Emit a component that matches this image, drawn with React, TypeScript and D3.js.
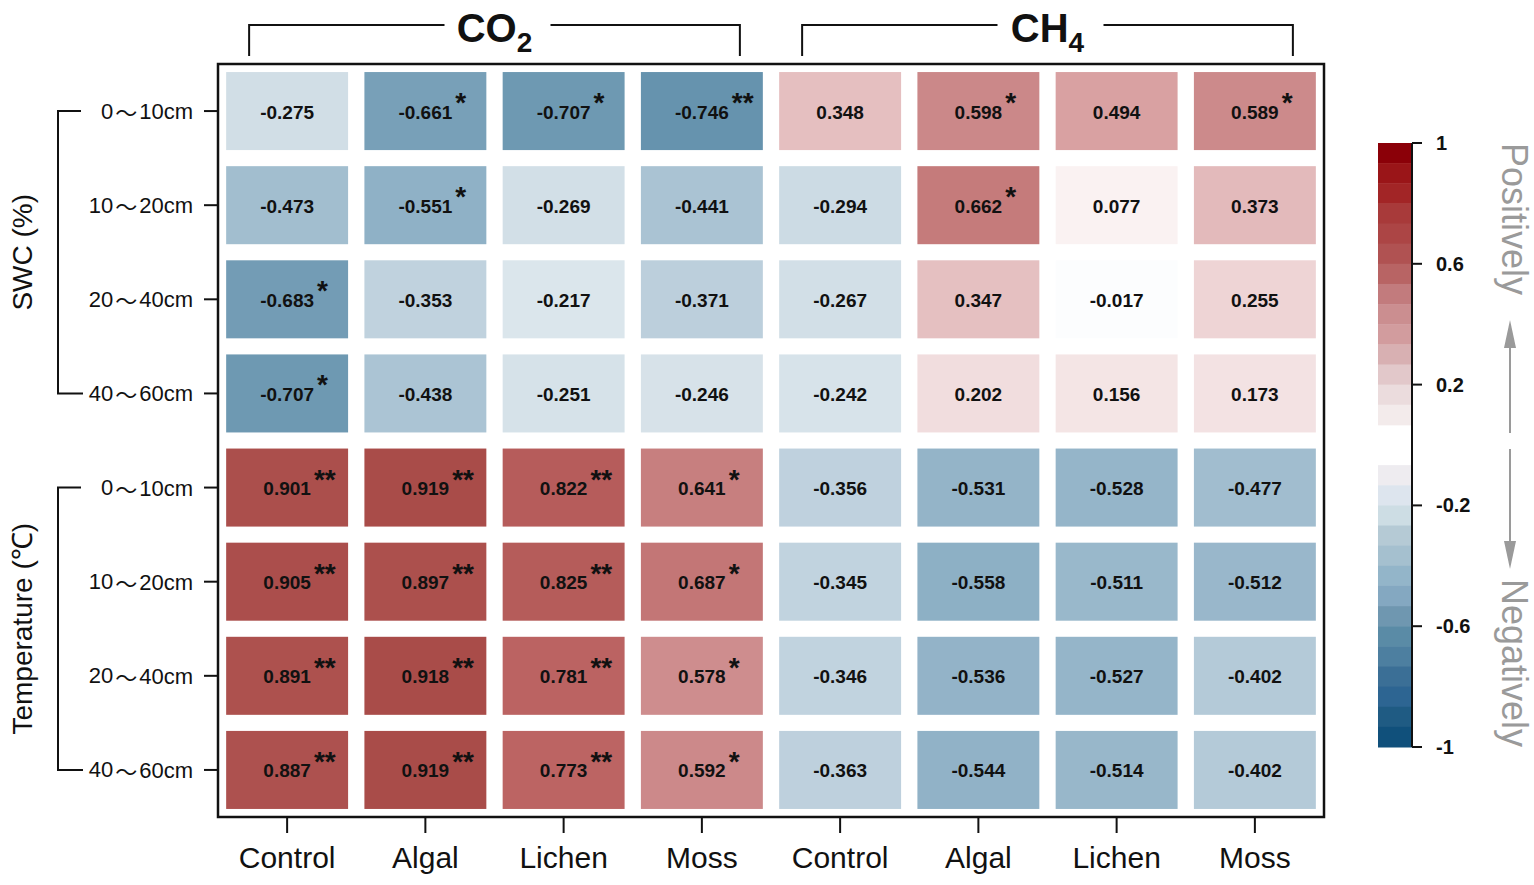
import React from "react";
import * as d3 from "d3";

// ---------- DATA ----------
const gases = ["CO2", "CH4"];
const treatments = ["Control", "Algal", "Lichen", "Moss"];
const columnKeys = gases.flatMap((g) => treatments.map((t) => `${g}-${t}`));
const columnLabels = ["Control", "Algal", "Lichen", "Moss", "Control", "Algal", "Lichen", "Moss"];
const depthLabels = ["0～10cm", "10～20cm", "20～40cm", "40～60cm"];
const factorLabels = ["SWC (%)", "Temperature (℃)"];

const swcValues = [
  [-0.275, -0.661, -0.707, -0.746, 0.348, 0.598, 0.494, 0.589],
  [-0.473, -0.551, -0.269, -0.441, -0.294, 0.662, 0.077, 0.373],
  [-0.683, -0.353, -0.217, -0.371, -0.267, 0.347, -0.017, 0.255],
  [-0.707, -0.438, -0.251, -0.246, -0.242, 0.202, 0.156, 0.173],
];
const swcSig = [
  ["", "*", "*", "**", "", "*", "", "*"],
  ["", "*", "", "", "", "*", "", ""],
  ["*", "", "", "", "", "", "", ""],
  ["*", "", "", "", "", "", "", ""],
];
const tempValues = [
  [0.901, 0.919, 0.822, 0.641, -0.356, -0.531, -0.528, -0.477],
  [0.905, 0.897, 0.825, 0.687, -0.345, -0.558, -0.511, -0.512],
  [0.891, 0.918, 0.781, 0.578, -0.346, -0.536, -0.527, -0.402],
  [0.887, 0.919, 0.773, 0.592, -0.363, -0.544, -0.514, -0.402],
];
const tempSig = [
  ["**", "**", "**", "*", "", "", "", ""],
  ["**", "**", "**", "*", "", "", "", ""],
  ["**", "**", "**", "*", "", "", "", ""],
  ["**", "**", "**", "*", "", "", "", ""],
];
const colorbarTicks = [1, 0.6, 0.2, -0.2, -0.6, -1];

// ---------- STYLE ----------
const FONT = "'Liberation Sans', Arial, Helvetica, sans-serif";
const CJK = "'Noto Sans CJK SC', 'Noto Sans CJK JP', sans-serif";
const cellDomain = [-1, -0.75, -0.55, -0.37, -0.25, 0, 0.25, 0.35, 0.5, 0.6, 0.78, 0.92, 1];
const cellRange = [
  "#2f6a90", "#6592ad", "#8fb1c6", "#bccfdc", "#d6e2e9", "#ffffff",
  "#eed5d6", "#e5bfc0", "#d8a0a1", "#cb8788", "#bb6362", "#a94c49", "#9a3c38",
];
const barColors = [
  "#8b0008", "#9a1518", "#a22526", "#a83a3a", "#ac4545", "#b05252", "#b86464",
  "#c27b7d", "#cb8e90", "#d29c9e", "#d8b0b2", "#e2c8ca", "#ebdcdd", "#f3ebeb",
  "none", "none",
  "#eeecf0", "#dde5ee", "#cddde4", "#b5cad5", "#a5c0cf", "#93b5c9", "#84a8c1",
  "#6f97b0", "#5a8ba6", "#4d7fa0", "#3b6f96", "#2d6592", "#1f5b83", "#10507b",
];

export default function App() {
  const W = 1534, H = 885;
  const left = 218, right = 1324, top = 64, bottom = 817;

  const rows = [...swcValues, ...tempValues];
  const sigs = [...swcSig, ...tempSig];
  const rowKeys = d3.range(rows.length).map(String);

  const x = d3.scaleBand<string>().domain(columnKeys).range([left, right]).paddingInner(0.118).paddingOuter(0.059);
  const y = d3.scaleBand<string>().domain(rowKeys).range([top, bottom]).paddingInner(0.171).paddingOuter(0.0855);
  const color = d3.scaleLinear<string>().domain(cellDomain).range(cellRange).interpolate(d3.interpolateRgb).clamp(true);

  const cb = d3.scaleLinear().domain([-1, 1]).range([747, 143]);
  const cbX0 = 1378, cbX1 = 1412;
  const nBlocks = barColors.length;
  const blockVals = d3.range(nBlocks + 1).map((i) => 1 - (2 * i) / nBlocks);

  const FS = 19;
  const textW = (s: string) => {
    let w = 0;
    for (const c of s) w += c === "." ? 0.278 : c === "-" ? 0.333 : 0.556;
    return w * FS;
  };

  const cx = (j: number) => (x(columnKeys[j]) as number) + x.bandwidth() / 2;
  const cy = (i: number) => (y(rowKeys[i]) as number) + y.bandwidth() / 2;

  const depthText = (s: string) => {
    const [a, b] = s.split("～");
    return (
      <>
        {a}
        <tspan fontFamily={CJK} dx={2}>～</tspan>
        <tspan dx={2}>{b}</tspan>
      </>
    );
  };

  return (
    <svg width={W} height={H} style={{ position: "absolute", left: 0, top: 0, background: "#fff" }} fontFamily={FONT}>
      {/* cells */}
      {rows.map((r, i) =>
        r.map((v, j) => {
          const label = v.toFixed(3);
          const s = sigs[i][j];
          return (
            <g key={`${i}-${j}`}>
              <rect x={x(columnKeys[j])} y={y(rowKeys[i])} width={x.bandwidth()} height={y.bandwidth()} fill={color(v)} />
              <text x={cx(j)} y={cy(i) + 1} textAnchor="middle" dominantBaseline="central" fontSize={FS} fontWeight="bold" fill="#111">
                {label}
              </text>
              {s && (
                <text x={cx(j) + textW(label) / 2 + 3} y={cy(i) + 1} fontSize={28} fontWeight="bold" fill="#111">
                  {s}
                </text>
              )}
            </g>
          );
        })
      )}

      {/* frame */}
      <rect x={left} y={top} width={right - left} height={bottom - top} fill="none" stroke="#111" strokeWidth={2.5} />

      {/* left ticks and labels */}
      {rows.map((_, i) => (
        <g key={`yl-${i}`}>
          <line x1={204} x2={left} y1={cy(i)} y2={cy(i)} stroke="#111" strokeWidth={2} />
          <text x={193} y={cy(i)} textAnchor="end" dominantBaseline="central" fontSize={22} fill="#111">
            {depthText(depthLabels[i % 4])}
          </text>
        </g>
      ))}

      {/* left brackets */}
      {factorLabels.map((f, g) => {
        const y0 = cy(g * 4), y1 = cy(g * 4 + 3);
        const mid = (y0 + y1) / 2;
        return (
          <g key={`fb-${g}`}>
            <path d={`M81,${y0}H58V${y1}H83`} fill="none" stroke="#111" strokeWidth={2} />
            <text transform={`translate(22,${mid}) rotate(-90)`} textAnchor="middle" dominantBaseline="central" fontSize={28} fill="#111">
              {f}
            </text>
          </g>
        );
      })}

      {/* bottom ticks and labels */}
      {columnKeys.map((k, j) => (
        <g key={`xl-${j}`}>
          <line x1={cx(j)} x2={cx(j)} y1={bottom} y2={833} stroke="#111" strokeWidth={2} />
          <text x={cx(j)} y={868} textAnchor="middle" fontSize={30} fill="#111">
            {columnLabels[j]}
          </text>
        </g>
      ))}

      {/* top brackets */}
      {gases.map((g, gi) => {
        const x1 = cx(gi * 4) - 38, x2 = cx(gi * 4 + 3) + 38;
        const m = (x1 + x2) / 2;
        return (
          <g key={`gb-${g}`}>
            <path d={`M${x1},56V25H${m - 50}`} fill="none" stroke="#111" strokeWidth={2} />
            <path d={`M${m + 56},25H${x2}V56`} fill="none" stroke="#111" strokeWidth={2} />
            <text x={m} y={42} textAnchor="middle" fontSize={40} fontWeight="bold" fill="#111">
              {g.slice(0, 2)}
              <tspan fontSize={28} dy={10}>{g.slice(2)}</tspan>
            </text>
          </g>
        );
      })}

      {/* colorbar */}
      {barColors.map((c, i) =>
        c === "none" ? null : (
          <rect key={`cb-${i}`} x={cbX0} y={cb(blockVals[i])} width={cbX1 - cbX0} height={cb(blockVals[i + 1]) - cb(blockVals[i]) + 0.5} fill={c} />
        )
      )}
      <line x1={cbX1} x2={cbX1} y1={cb(1)} y2={cb(-1)} stroke="#111" strokeWidth={2} />
      {colorbarTicks.map((t) => (
        <g key={`ct-${t}`}>
          <line x1={cbX1} x2={1422} y1={cb(t)} y2={cb(t)} stroke="#111" strokeWidth={2} />
          <text x={1436} y={cb(t)} dominantBaseline="central" fontSize={20} fontWeight="bold" fill="#111">
            {t}
          </text>
        </g>
      ))}

      {/* Positively / Negatively */}
      <text transform={`translate(1502,${cb(1)}) rotate(90)`} fontSize={36} fill="#9a9a9a">Positively</text>
      <text transform={`translate(1502,${cb(-1)}) rotate(90)`} textAnchor="end" fontSize={36} fill="#9a9a9a">Negatively</text>
      <line x1={1510} x2={1510} y1={345} y2={433} stroke="#9a9a9a" strokeWidth={2} />
      <polygon points="1510,320 1504,348 1516,348" fill="#9a9a9a" />
      <line x1={1510} x2={1510} y1={449} y2={543} stroke="#9a9a9a" strokeWidth={2} />
      <polygon points="1510,569 1504,541 1516,541" fill="#9a9a9a" />
    </svg>
  );
}
